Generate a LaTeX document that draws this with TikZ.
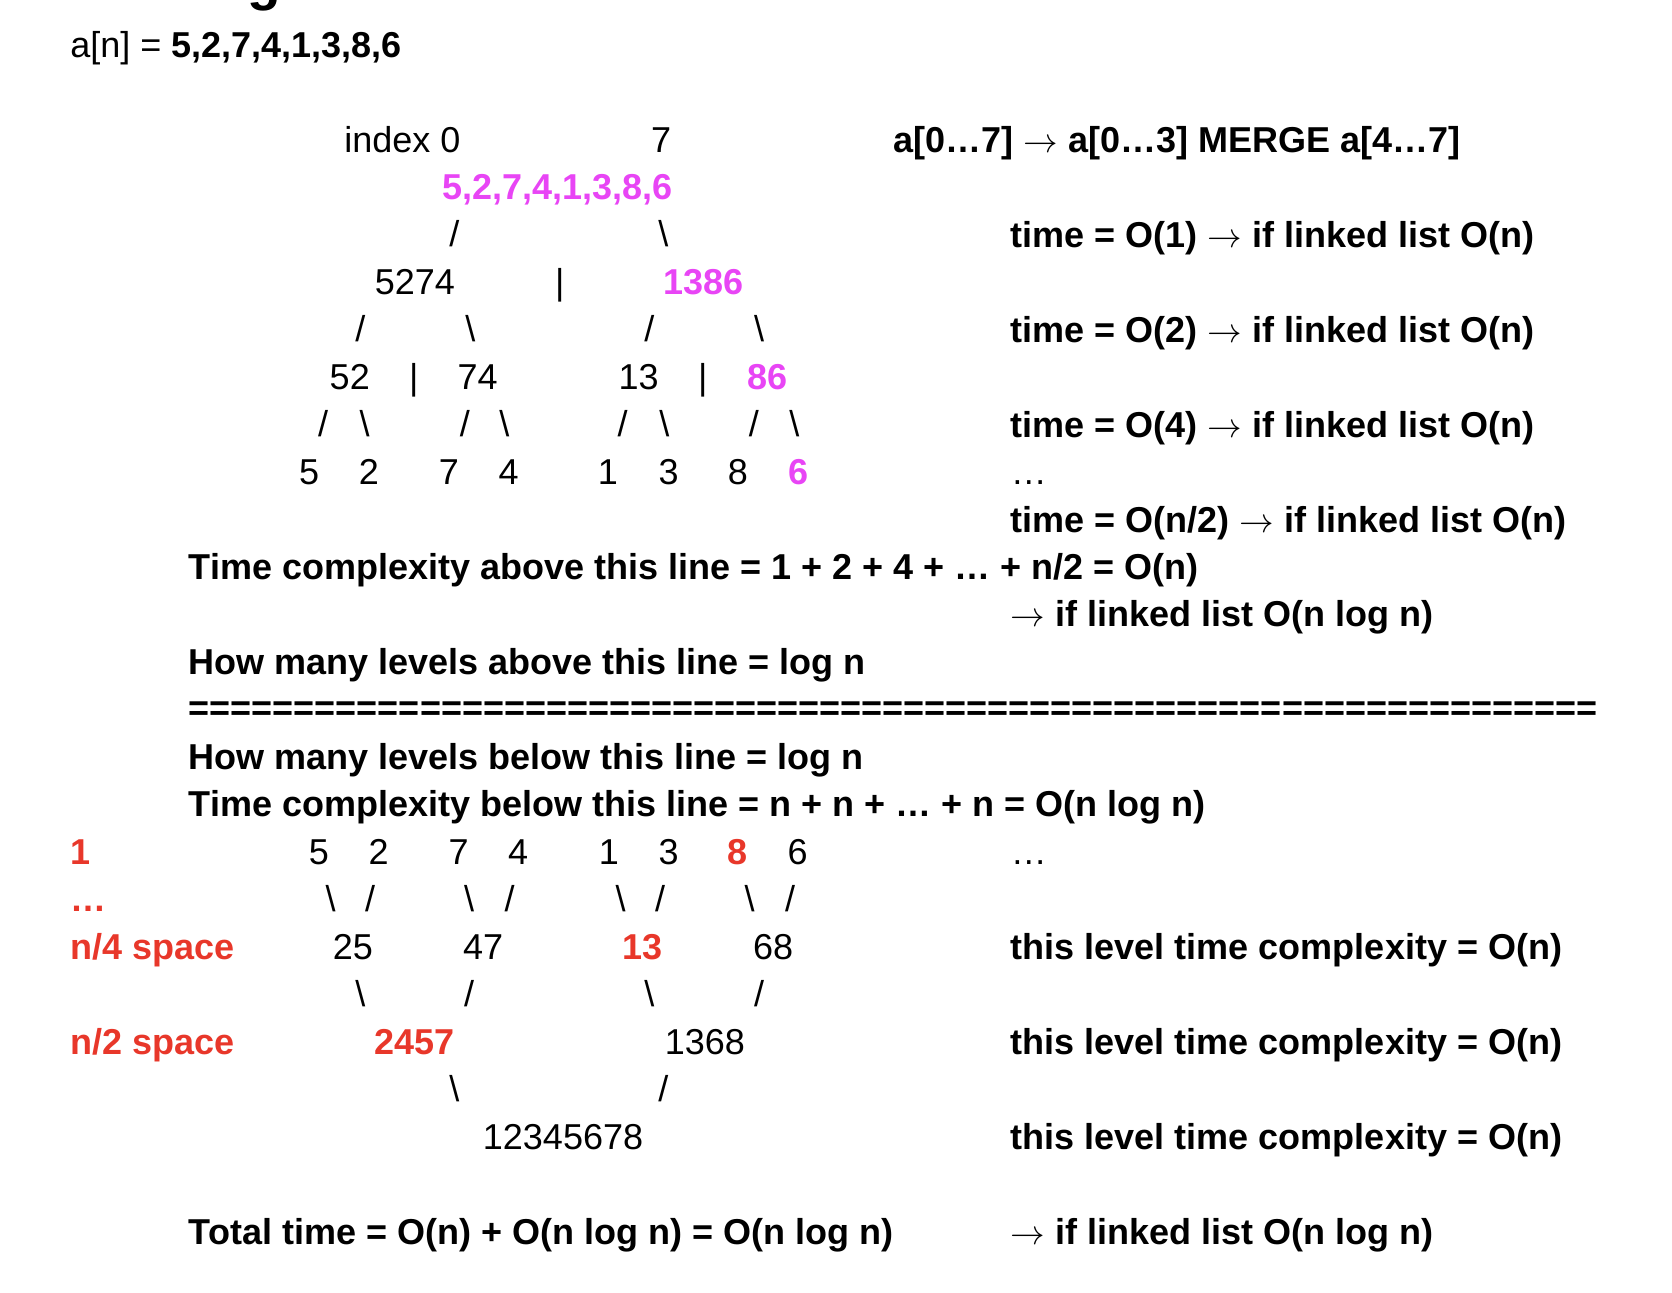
\documentclass[tikz,border=0pt]{standalone}
\usepackage{fontspec}
\setmainfont{Liberation Sans}
\definecolor{mag}{RGB}{232,69,245}
\definecolor{redc}{RGB}{232,55,42}
\newcommand{\myarr}{\ensuremath{\rightarrow}}
\begin{document}
\begin{tikzpicture}[x=0.53316pt,y=-0.53316pt,
  every node/.style={inner sep=0pt,outer sep=0pt,font=\fontsize{18}{20}\selectfont},
  txt/.style={anchor=base west},
  btxt/.style={anchor=base west,font=\fontsize{18}{20}\selectfont\bfseries},
  num/.style={anchor=base},
  bnum/.style={anchor=base,font=\fontsize{18}{20}\selectfont\bfseries},
  hl/.style={text=mag},
  rd/.style={text=redc}]
\useasboundingbox (0,0) rectangle (1568,1212);
\clip (0,0) rectangle (1568,1212);
% cut-off title
\node[anchor=base west,font=\fontsize{27.5}{30}\selectfont\bfseries] (title) at (140,0) {Merge Sort};
% header
\node[txt] (arr) at (66,54) {a[n] = \textbf{5,2,7,4,1,3,8,6}};
% index labels
\node[txt] (idx0) at (323,143) {index 0};
\node[num] (idx7) at (620,143) {7};
\node[btxt] (split) at (838,143) {a[0…7] \myarr{} a[0…3] MERGE a[4…7]};
% split tree
\node[bnum,hl] (root) at (522.5,187) {5,2,7,4,1,3,8,6};
\node[num] (r1) at (426,231) {/};
\node[num] (r2) at (622,231) {\textbackslash};
\node[num] (L) at (389,276) {5274};
\node[num] (sepA) at (525,276) {|};
\node[bnum,hl] (R) at (660,276) {1386};
\node[num] (l1) at (338,320) {/};
\node[num] (l2) at (441,320) {\textbackslash};
\node[num] (l3) at (609,320) {/};
\node[num] (l4) at (712,320) {\textbackslash};
\node[num] (LL) at (328,365) {52};
\node[num] (sepB) at (388,365) {|};
\node[num] (LR) at (448,365) {74};
\node[num] (RL) at (599,365) {13};
\node[num] (sepC) at (659,365) {|};
\node[bnum,hl] (RR) at (720,365) {86};
\node[num] (m1) at (303,409) {/};
\node[num] (m2) at (342,409) {\textbackslash};
\node[num] (m3) at (436,409) {/};
\node[num] (m4) at (473,409) {\textbackslash};
\node[num] (m5) at (584,409) {/};
\node[num] (m6) at (623,409) {\textbackslash};
\node[num] (m7) at (707,409) {/};
\node[num] (m8) at (745,409) {\textbackslash};
\node[num] (a1) at (290,454) {5};
\node[num] (a2) at (346,454) {2};
\node[num] (a3) at (421,454) {7};
\node[num] (a4) at (477,454) {4};
\node[num] (a5) at (570,454) {1};
\node[num] (a6) at (627,454) {3};
\node[num] (a7) at (692,454) {8};
\node[bnum,hl] (a8) at (749,454) {6};
% right column top
\node[btxt] (t1) at (948,232) {time = O(1) \myarr{} if linked list O(n)};
\node[btxt] (t2) at (948,321) {time = O(2) \myarr{} if linked list O(n)};
\node[btxt] (t4) at (948,410) {time = O(4) \myarr{} if linked list O(n)};
\node[txt] (tdots) at (948,454) {…};
\node[btxt] (tn2) at (948,499) {time = O(n/2) \myarr{} if linked list O(n)};
% summaries
\node[btxt] (above) at (177,543) {Time complexity above this line = 1 + 2 + 4 + … + n/2 = O(n)};
\node[btxt] (aboveLL) at (948,588) {\myarr{} if linked list O(n log n)};
\node[btxt] (lvAbove) at (177,633) {How many levels above this line = log n};
\node[btxt] (eqline) at (177,676) {===================================================================};
\node[btxt] (lvBelow) at (177,722) {How many levels below this line = log n};
\node[btxt] (below) at (177,766) {Time complexity below this line = n + n + … + n = O(n log n)};
% merge tree
\node[btxt,rd] (s1) at (66,811) {1};
\node[num] (b1) at (299,811) {5};
\node[num] (b2) at (355,811) {2};
\node[num] (b3) at (430,811) {7};
\node[num] (b4) at (486,811) {4};
\node[num] (b5) at (571,811) {1};
\node[num] (b6) at (627,811) {3};
\node[bnum,rd] (b7) at (692,811) {8};
\node[num] (b8) at (748,811) {6};
\node[txt] (bdots) at (948,811) {…};
\node[btxt,rd] (sdots) at (66,855) {…};
\node[num] (n1) at (310,855) {\textbackslash};
\node[num] (n2) at (347,855) {/};
\node[num] (n3) at (440,855) {\textbackslash};
\node[num] (n4) at (478,855) {/};
\node[num] (n5) at (582,855) {\textbackslash};
\node[num] (n6) at (619,855) {/};
\node[num] (n7) at (703,855) {\textbackslash};
\node[num] (n8) at (741,855) {/};
\node[btxt,rd] (s4) at (66,900) {n/4 space};
\node[num] (c1) at (331,900) {25};
\node[num] (c2) at (453,900) {47};
\node[bnum,rd] (c3) at (603,900) {13};
\node[num] (c4) at (725,900) {68};
\node[btxt] (lv1) at (948,900) {this level time complexity = O(n)};
\node[num] (o1) at (338,944) {\textbackslash};
\node[num] (o2) at (440,944) {/};
\node[num] (o3) at (609,944) {\textbackslash};
\node[num] (o4) at (712,944) {/};
\node[btxt,rd] (s2) at (66,989) {n/2 space};
\node[bnum,rd] (d1) at (389,989) {2457};
\node[num] (d2) at (661,989) {1368};
\node[btxt] (lv2) at (948,989) {this level time complexity = O(n)};
\node[num] (p1) at (426,1033) {\textbackslash};
\node[num] (p2) at (622,1033) {/};
\node[num] (fin) at (528,1078) {12345678};
\node[btxt] (lv3) at (948,1078) {this level time complexity = O(n)};
% total
\node[btxt] (total) at (177,1167) {Total time = O(n) + O(n log n) = O(n log n)};
\node[btxt] (totalLL) at (948,1167) {\myarr{} if linked list O(n log n)};
\end{tikzpicture}
\end{document}
